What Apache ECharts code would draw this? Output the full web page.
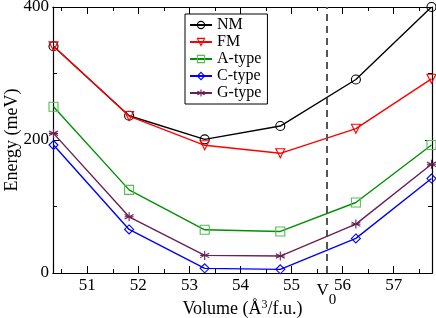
<!DOCTYPE html>
<html><head><meta charset="utf-8">
<script src="https://cdn.jsdelivr.net/npm/echarts@6/dist/echarts.min.js"></script>
<style>html,body{margin:0;padding:0;background:#fff}#c{width:436px;height:318px}</style>
</head><body><div id="c"></div>
<script>
const volumes = [50.34, 51.82, 53.30, 54.78, 56.26, 57.74];
const nm     = [341, 236.5, 201, 221, 291, 400];
const fm     = [341, 236, 192, 180, 217, 292];
const aType  = [250, 125, 65, 62.5, 106, 192.5];
const cType  = [192.5, 65.5, 7, 5.5, 52, 142];
const gType  = [210, 84.5, 26.5, 25.5, 73.5, 163.5];
const seriesNames = ['NM', 'FM', 'A-type', 'C-type', 'G-type'];
const majorX = [51, 52, 53, 54, 55, 56, 57];
const minorX = [50.5, 51.5, 52.5, 53.5, 54.5, 55.5, 56.5, 57.5];
const v0 = 55.68;

const font = 'Liberation Serif';
const colors = ['#000000', '#ff0000', '#009000', '#0000ff', '#6b1f56'];
const symbols = ['circle', 'path://M-1,-0.85L1,-0.85L0,0.9Z', 'rect', 'diamond',
  'path://M0,-1L0,1M-0.87,-0.5L0.87,0.5M-0.87,0.5L0.87,-0.5M-0.87,0L0.87,0'];
const markerBorder = ['#000000', '#ff0000', '#50c050', '#0000ff', '#6b1f56'];
const allData = [nm, fm, aType, cType, gType];

function pairs(vals){ return volumes.map((v,i)=>[v, vals[i]]); }

const xMin = 50.33, xMax = 57.75;
function xAx(pos, labels, ticks, len, name){
  return {
    type:'value', position:pos, min:xMin, max:xMax,
    name: name || '', nameLocation:'middle', nameGap: 26, nameMoveOverlap:false,
    nameTextStyle:{fontFamily:font, fontSize:18, color:'#000',
      rich:{sup:{fontFamily:font, fontSize:12, color:'#000', verticalAlign:'top', padding:[0,0,8,0]}}},
    axisLine:{show:true, onZero:false, lineStyle:{color:'#000', width:1.2}},
    axisTick:{show:true, inside:true, length:len, customValues:ticks, lineStyle:{color:'#000'}},
    axisLabel:{show:labels, customValues:majorX, fontFamily:font, fontSize:17, color:'#000', margin:4},
    splitLine:{show:false}
  };
}
function yAx(pos, labels, name){
  return {
    type:'value', position:pos, min:0, max:400, interval:200,
    name: name || '', nameLocation:'middle', nameGap: 32, nameMoveOverlap:false,
    nameTextStyle:{fontFamily:font, fontSize:18, color:'#000'},
    axisLine:{show:true, lineStyle:{color:'#000', width:1.2}},
    axisTick:{show:true, inside:true, length:7, lineStyle:{color:'#000'}},
    minorTick:{show:true, splitNumber:2, length:4, lineStyle:{color:'#000'}},
    axisLabel:{show:labels, fontFamily:font, fontSize:17, color:'#000', margin:4},
    splitLine:{show:false}, minorSplitLine:{show:false}
  };
}

const series = seriesNames.map((n,i)=>({
  name:n, type:'line', data:pairs(allData[i]), xAxisIndex:0, yAxisIndex:0,
  symbol: symbols[i], symbolSize: 9,
  lineStyle:{color:colors[i], width:1.4},
  itemStyle:{color:'rgba(0,0,0,0)', borderColor:markerBorder[i], borderWidth:1.1},
  emphasis:{disabled:true}, animation:false, z: 2+i
}));
series[0].markLine = {
  silent:true, symbol:['none','none'], animation:false,
  lineStyle:{color:'#555', width:2, type:[7,5]},
  label:{show:true, position:'start', distance:[-2,0], formatter:'V{s|0}',
    fontFamily:font, fontSize:17, color:'#000',
    rich:{s:{fontFamily:font, fontSize:15, color:'#000', padding:[20,0,0,0]}}},
  data:[{xAxis:v0}]
};

const chart = echarts.init(document.getElementById('c'), null, {renderer:'canvas'});
chart.setOption({
  backgroundColor:'#fff', animation:false,
  grid:{left:53, top:7, right:4, bottom:45, containLabel:false, outerBoundsMode:'none'},
  xAxis:[
    xAx('bottom', true, majorX, 7, 'Volume (Å{sup|3}/f.u.)'),
    xAx('bottom', false, minorX, 4),
    xAx('top', false, majorX, 7),
    xAx('top', false, minorX, 4)
  ],
  yAxis:[ yAx('left', true, 'Energy (meV)'), yAx('right', false) ],
  legend:{
    orient:'vertical', left:185, top:14, data:seriesNames,
    itemWidth:22, itemHeight:9, itemGap:1,
    backgroundColor:'#fff', borderColor:'#000', borderWidth:1, padding:[3,6,3,4],
    itemStyle:{color:'rgba(0,0,0,0)', borderColor:'inherit', borderWidth:1.1},
    textStyle:{fontFamily:font, fontSize:16, color:'#000'}
  },
  series: series
});
</script></body></html>
